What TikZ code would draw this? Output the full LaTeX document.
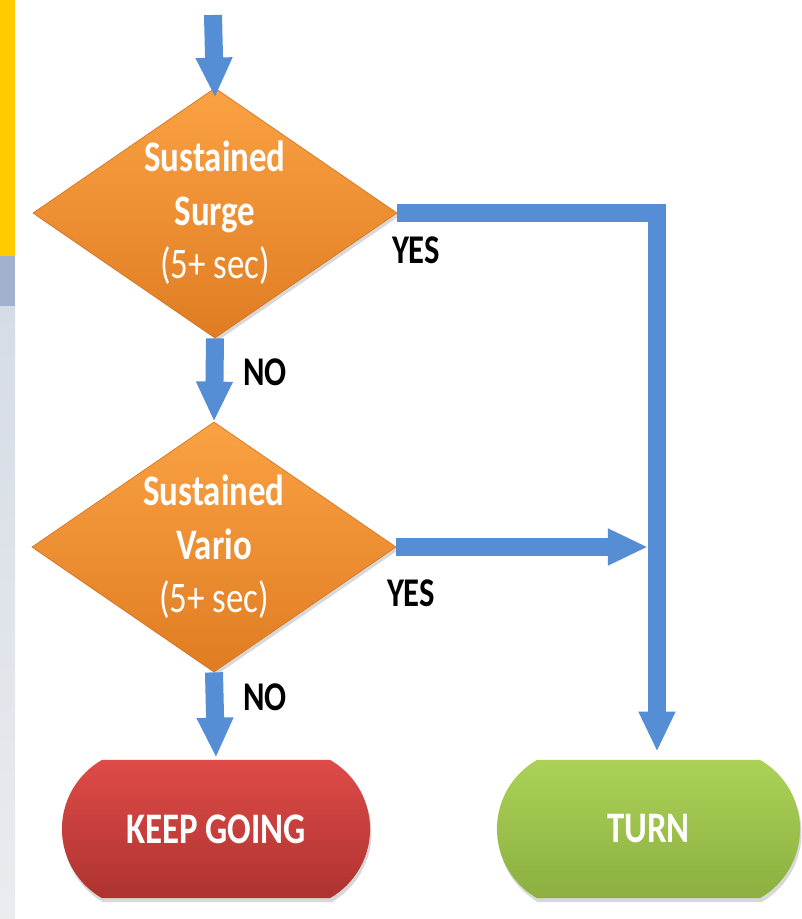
\documentclass[tikz,border=0pt]{standalone}
\usepackage{fontspec}
\setmainfont{Carlito}
\newfontfamily\narrowfont[FakeStretch=0.8]{Carlito}
\usetikzlibrary{arrows.meta,shapes.geometric,shapes.misc,shadows}

\definecolor{flowblue}{HTML}{558ED5}
\definecolor{orangetop}{HTML}{FAA243}
\definecolor{orangebot}{HTML}{E07C22}
\definecolor{orangeedge}{HTML}{D9761F}
\definecolor{redtop}{HTML}{DE4B48}
\definecolor{redbot}{HTML}{AE3330}
\definecolor{greentop}{HTML}{ABD257}
\definecolor{greenbot}{HTML}{8CAF40}
\definecolor{bandyellow}{HTML}{FFCC00}
\definecolor{bandblue}{HTML}{A2B2CE}
\definecolor{bandgraytop}{HTML}{D6DCE5}
\definecolor{bandgraybot}{HTML}{E9ECEF}

\tikzset{
  decision/.style={diamond, aspect=1.456, minimum width=9.1cm, minimum height=6.25cm,
    inner sep=0pt, top color=orangetop, bottom color=orangebot, draw=orangeedge,
    line width=0.5pt, text=white, align=center,
    font=\narrowfont\fontsize{31}{38}\selectfont\bfseries,
    drop shadow={opacity=0.3, shadow xshift=2pt, shadow yshift=-2pt}},
  terminal/.style={rounded rectangle, rounded rectangle arc length=120,
    minimum height=3.45cm, inner sep=0pt, text=white,
    font=\narrowfont\fontsize{31}{36}\selectfont\bfseries,
    drop shadow={opacity=0.3, shadow xshift=1pt, shadow yshift=-3pt}},
  flow/.style={draw=flowblue, line width=0.45cm, line join=miter,
    -{Triangle[width=0.85cm,length=1cm]}},
  answer/.style={text=black, font=\narrowfont\fontsize{29}{32}\selectfont\bfseries}
}

\begin{document}
\begin{tikzpicture}[x=0.025cm, y=-0.025cm]
\useasboundingbox (0,0) rectangle (801,919);
\fill[white] (0,0) rectangle (801,919);
% strip on the left edge
\fill[bandyellow] (0,0) rectangle (15,256);
\fill[bandblue] (0,256) rectangle (15,306);
\shade[top color=bandgraytop, bottom color=bandgraybot] (0,306) rectangle (15,919);

% decisions and outcomes
\node[decision] (surge) at (215,213) {Sustained\\Surge\\{\mdseries (5+ sec)}};
\node[decision] (vario) at (214,547) {Sustained\\Vario\\{\mdseries (5+ sec)}};
\node[terminal, top color=redtop, bottom color=redbot, minimum width=7.7cm]
  (keep) at (216,829) {KEEP GOING};
\node[terminal, top color=greentop, bottom color=greenbot, minimum width=7.575cm]
  (turn) at (648.5,829) {TURN};

% connectors
\coordinate (entry) at (213,15);
\coordinate (merge) at (648,549);
\draw[flow] (surge.east) -| ([xshift=0.2125cm, yshift=0.2cm]turn.north);
\draw[flow] (vario.east) -- (vario.east -| merge);
\draw[flow] (entry) -- ([yshift=-0.25cm]surge.north);
\draw[flow] (surge.south) -- (vario.north);
\draw[flow] (vario.south) -- ([yshift=0.05cm]keep.north);

% labels
\node[answer] (surgeyes) at (416,250) {YES};
\node[answer] (varioyes) at (411,593) {YES};
\node[answer] (surgeno) at (265,372) {NO};
\node[answer] (variono) at (265,697) {NO};
\end{tikzpicture}
\end{document}
